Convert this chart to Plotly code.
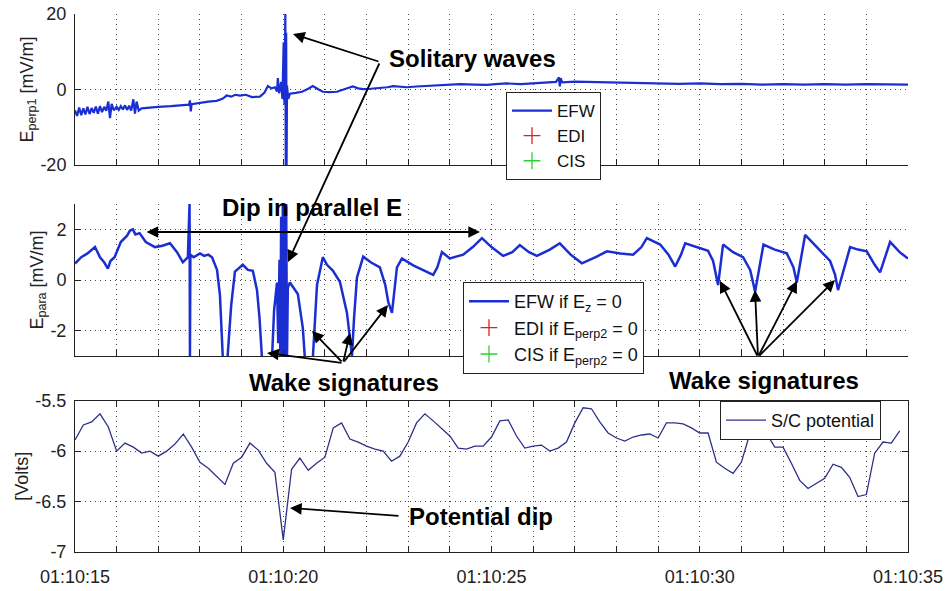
import plotly.graph_objects as go

# ---------------- data ----------------
# Panel 1: E_perp1 [mV/m]  (seconds after 01:10:00)
t_perp1 = [15.00, 15.05, 15.10, 15.15, 15.20, 15.25, 15.30, 15.35, 15.40, 15.45,
           15.50, 15.55, 15.60, 15.65, 15.70, 15.75, 15.80, 15.84, 15.88, 15.93,
           16.00, 16.05, 16.10, 16.15, 16.20, 16.25, 16.30, 16.35, 16.40, 16.44,
           16.48, 16.53, 16.60, 16.80, 17.00, 17.30, 17.60, 17.74, 17.76, 17.78,
           17.80, 18.00, 18.20, 18.40, 18.55, 18.64, 18.75, 18.85, 18.96, 19.10,
           19.25, 19.44, 19.55, 19.63, 19.72, 19.80, 19.85, 19.87, 19.90, 19.95,
           19.98, 20.01, 20.03, 20.05, 20.06, 20.07, 20.08, 20.09, 20.12, 20.16,
           20.30, 20.45, 20.60, 20.71, 20.85, 20.95, 21.10, 21.29, 21.50, 21.67,
           21.80, 21.91, 22.10, 22.32, 22.50, 22.64, 22.80, 22.97, 23.20, 23.45,
           23.80, 24.24, 24.60, 24.89, 25.10, 25.37, 25.70, 26.00, 26.30, 26.55,
           26.62, 26.64, 26.66, 26.70, 27.00, 27.50, 28.00, 28.57, 29.00, 29.50,
           30.00, 30.50, 31.00, 31.50, 32.00, 32.50, 33.00, 33.50, 34.00, 34.50,
           35.00]
e_perp1 = [-5.5, -7.0, -4.8, -6.8, -5.0, -6.6, -4.6, -6.5, -4.9, -6.2,
           -4.5, -6.4, -4.4, -6.0, -4.6, -5.6, -3.2, -7.6, -3.8, -5.5,
           -4.6, -5.4, -4.4, -5.3, -4.2, -5.4, -4.3, -5.6, -2.6, -6.4,
           -3.2, -5.6, -5.0, -4.7, -4.6, -4.4, -4.1, -4.0, -2.9, -5.8,
           -3.9, -3.5, -3.2, -3.0, -2.4, -1.6, -1.9, -1.4, -1.6, -1.4,
           -2.0, -1.9, -0.8, 0.9, 0.3, 0.6, -0.5, 3.0, -1.0, 2.0,
           -2.5, 12.5, -4.0, 20.0, -20.0, 15.0, -20.0, 1.0, -2.5, -1.1,
           -0.9, -0.6, 0.2, 0.9, 0.0, -0.6, -0.7, -0.6, 0.2, 0.8,
           0.3, 0.1, 0.2, 0.4, 0.6, 0.9, 0.7, 0.6, 0.8, 0.9,
           1.1, 1.4, 1.3, 1.2, 1.4, 1.6, 1.4, 1.6, 1.8, 2.0,
           3.2, 0.8, 3.0, 1.9, 2.1, 2.0, 1.9, 1.6, 1.7, 1.5,
           1.6, 1.4, 1.5, 1.3, 1.4, 1.3, 1.4, 1.3, 1.4, 1.3,
           1.3]

# Panel 2: E_para [mV/m]
t_para = [15.00, 15.15, 15.30, 15.48, 15.60, 15.70, 15.79, 15.85, 15.95, 16.10,
          16.25, 16.32, 16.39, 16.45, 16.55, 16.70, 16.92, 17.10, 17.28, 17.45,
          17.59, 17.71, 17.75, 17.76, 17.77, 17.85, 18.00, 18.10, 18.20, 18.29,
          18.41, 18.48, 18.55, 18.66, 18.75, 18.84, 19.03, 19.15, 19.27, 19.37,
          19.43, 19.49, 19.73, 19.78, 19.85, 19.88, 19.91, 19.93, 19.95, 19.97,
          19.99, 20.01, 20.03, 20.05, 20.07, 20.09, 20.11, 20.16, 20.25, 20.35,
          20.47, 20.52, 20.71, 20.76, 20.81, 20.95, 21.05, 21.19, 21.36, 21.53,
          21.65, 21.70, 21.77, 21.92, 22.10, 22.32, 22.45, 22.52, 22.61, 22.73,
          22.85, 23.12, 23.35, 23.60, 23.70, 23.81, 24.00, 24.32, 24.55, 24.77,
          25.00, 25.28, 25.50, 25.68, 25.90, 26.09, 26.40, 26.64, 26.90, 27.17,
          27.50, 27.77, 28.10, 28.40, 28.60, 28.73, 29.05, 29.25, 29.41, 29.55,
          29.65, 29.90, 30.20, 30.32, 30.40, 30.44, 30.56, 30.80, 31.04, 31.21,
          31.33, 31.53, 31.80, 32.09, 32.25, 32.33, 32.53, 32.80, 33.13, 33.25,
          33.32, 33.61, 33.80, 34.01, 34.20, 34.33, 34.57, 34.80, 35.00]
e_para = [0.65, 0.9, 1.05, 1.3, 0.9, 0.7, 0.45, 0.75, 0.9, 1.5,
          1.75, 1.95, 2.0, 1.8, 1.85, 1.5, 1.3, 1.35, 1.45, 1.1,
          0.7, 0.9, 3.0, -3.0, 1.0, 0.9, 1.05, 0.95, 1.0, 0.9,
          0.4, -0.6, -3.1, -3.1, -1.0, 0.33, 0.6, 0.4, 0.36, -0.4,
          -1.5, -3.1, -3.1, -1.2, -0.1, -2.5, 0.8, -3.0, 2.5, -3.0,
          3.0, -3.0, 3.0, -3.0, 3.0, -3.0, -0.3, -0.1, -0.3, -0.55,
          -1.9, -3.1, -3.1, -1.5, -0.2, 0.9, 0.6, 0.37, -0.07, -1.3,
          -3.0, -1.5, 0.1, 0.92, 0.7, 0.5, -0.2, -0.86, -1.3, 0.5,
          0.85, 0.58, 0.4, 0.2, 0.5, 1.1, 0.85, 1.0, 1.3, 1.65,
          1.3, 0.95, 1.1, 1.38, 1.1, 0.95, 1.2, 1.45, 1.0, 0.66,
          0.9, 1.13, 1.05, 1.0, 1.3, 1.65, 1.4, 1.0, 0.53, 1.0,
          1.45, 1.3, 1.15, 0.75, 0.2, -0.2, 1.4, 1.1, 0.9, 0.4,
          -0.46, 1.4, 1.2, 1.05, 0.5, -0.1, 1.78, 1.3, 0.75, 0.2,
          -0.4, 1.3, 1.2, 1.13, 0.6, 0.3, 1.5, 1.1, 0.85]

# Panel 3: spacecraft potential [Volts], sampled every 0.2 s from 15.0 s
t_pot_start = 15.0
t_pot_step = 0.2
sc_pot = [-5.89, -5.74, -5.71, -5.63, -5.76, -6.00, -5.92, -5.96, -6.02, -6.00,
          -6.05, -6.00, -5.93, -5.83, -5.96, -6.11, -6.17, -6.25, -6.33, -6.12,
          -6.06, -5.92, -5.99, -6.12, -6.21, -6.88, -6.18, -6.07, -6.19, -6.12,
          -6.06, -5.77, -5.72, -5.88, -5.91, -5.95, -5.98, -6.00, -6.10, -6.05,
          -5.91, -5.72, -5.63, -5.70, -5.78, -5.85, -5.97, -5.98, -5.95, -5.95,
          -5.86, -5.70, -5.69, -5.85, -5.97, -5.95, -5.94, -6.00, -5.97, -5.91,
          -5.72, -5.57, -5.58, -5.71, -5.82, -5.87, -5.90, -5.86, -5.84, -5.83,
          -5.87, -5.72, -5.72, -5.73, -5.77, -5.82, -5.82, -6.11, -6.17, -6.22,
          -6.11, -5.83, -5.81, -5.82, -5.96, -5.96, -6.12, -6.29, -6.37, -6.32,
          -6.27, -6.13, -6.16, -6.26, -6.45, -6.43, -6.02, -5.91, -5.92, -5.80]
t_pot = [t_pot_start + t_pot_step * i for i in range(len(sc_pot))]

# EDI / CIS have no samples in this interval (legend entries only)
edi_t, edi_v = [None], [None]
cis_t, cis_v = [None], [None]

x_tick_vals = list(range(15, 36))
x_label_vals = [15, 20, 25, 30, 35]
x_label_text = ["01:10:15", "01:10:20", "01:10:25", "01:10:30", "01:10:35"]

y1_vals = [-20, 0, 20]
y1_text = ["-20", "0", "20"]
y2_vals = [-2, 0, 2, 3]
y2_text = ["-2", "0", "2", ""]
y3_vals = [-7, -6.5, -6, -5.5]
y3_text = ["-7", "-6.5", "-6", "-5.5"]

# ---------------- figure ----------------
FONT = "Liberation Sans, Arial, Helvetica, sans-serif"
EFW_COLOR = "#1b2ed2"
POT_COLOR = "#2e3088"
EDI_COLOR = "#e02020"
CIS_COLOR = "#30d030"

fig = go.Figure()

fig.add_trace(go.Scatter(x=t_perp1, y=e_perp1, mode="lines", name="EFW",
                         line=dict(color=EFW_COLOR, width=2.2),
                         xaxis="x", yaxis="y", legend="legend"))
fig.add_trace(go.Scatter(x=edi_t, y=edi_v, mode="markers", name="EDI",
                         marker=dict(symbol="cross-thin", size=12, line=dict(color=EDI_COLOR, width=1.3)),
                         xaxis="x", yaxis="y", legend="legend"))
fig.add_trace(go.Scatter(x=cis_t, y=cis_v, mode="markers", name="CIS",
                         marker=dict(symbol="cross-thin", size=12, line=dict(color=CIS_COLOR, width=1.3)),
                         xaxis="x", yaxis="y", legend="legend"))

fig.add_trace(go.Scatter(x=t_para, y=e_para, mode="lines", name="EFW if E<sub>z</sub> = 0",
                         line=dict(color=EFW_COLOR, width=2.5),
                         xaxis="x2", yaxis="y2", legend="legend2"))
fig.add_trace(go.Scatter(x=edi_t, y=edi_v, mode="markers", name="EDI if E<sub>perp2</sub> = 0",
                         marker=dict(symbol="cross-thin", size=12, line=dict(color=EDI_COLOR, width=1.3)),
                         xaxis="x2", yaxis="y2", legend="legend2"))
fig.add_trace(go.Scatter(x=cis_t, y=cis_v, mode="markers", name="CIS if E<sub>perp2</sub> = 0",
                         marker=dict(symbol="cross-thin", size=12, line=dict(color=CIS_COLOR, width=1.3)),
                         xaxis="x2", yaxis="y2", legend="legend2"))

fig.add_trace(go.Scatter(x=t_pot, y=sc_pot, mode="lines", name="S/C potential",
                         line=dict(color=POT_COLOR, width=1.3),
                         xaxis="x3", yaxis="y3", legend="legend3"))

L, R, T, B = 75, 908, 14, 552
W, H = 947, 591


def px(X):
    return (X - L) / (R - L)


def py(Y):
    return (B - Y) / (B - T)


GRID = dict(showgrid=True, gridcolor="#444", griddash="1px,4px", gridwidth=1)


def xaxis_common(show_labels, anchor, mirror):
    d = dict(range=[15, 35], domain=[0, 1], anchor=anchor, automargin=False,
             tickmode="array", tickvals=x_tick_vals,
             ticktext=[(x_label_text[x_label_vals.index(v)] if (show_labels and v in x_label_vals) else "")
                       for v in x_tick_vals],
             showticklabels=show_labels,
             ticks="inside", ticklen=6, tickcolor="#222", tickwidth=1,
             showline=True, linecolor="#222", linewidth=1, mirror=mirror,
             zeroline=False,
             tickfont=dict(family=FONT, size=18, color="#222"), **GRID)
    return d


def yaxis_common(rng, dom, vals, text, title, mirror, anchor):
    return dict(range=rng, domain=dom, anchor=anchor, automargin=False,
                tickmode="array", tickvals=vals, ticktext=text,
                ticks="inside", ticklen=6, tickcolor="#222",
                showline=True, linecolor="#222", linewidth=1, mirror=mirror,
                zeroline=False, ticklabelstandoff=4,
                tickfont=dict(family=FONT, size=18, color="#222"),
                title=dict(text=title, font=dict(family=FONT, size=18, color="#222"), standoff=2),
                **GRID)


xa1 = xaxis_common(False, "y", False)
xa2 = xaxis_common(False, "y2", False)
xa3 = xaxis_common(True, "y3", "ticks")
xa3["ticklabelstandoff"] = 8

ya1 = yaxis_common([-20, 20], [py(165), py(14)], y1_vals, y1_text, "E<sub>perp1</sub> [mV/m]", False, "x")
ya2 = yaxis_common([-3, 3], [py(356), py(204)], y2_vals, y2_text, "E<sub>para</sub> [mV/m]", False, "x2")
ya3 = yaxis_common([-7, -5.5], [0, py(400.7)], y3_vals, y3_text, "[Volts]", "ticks", "x3")

LEG = dict(xanchor="left", yanchor="top", bgcolor="white", bordercolor="#222", borderwidth=1,
           itemwidth=40, tracegroupgap=0)

fig.update_layout(
    width=W, height=H,
    margin=dict(l=L, r=W - R, t=T, b=H - B, pad=0, autoexpand=False),
    paper_bgcolor="white", plot_bgcolor="white",
    xaxis=xa1, xaxis2=xa2, xaxis3=xa3,
    yaxis=ya1, yaxis2=ya2, yaxis3=ya3,
    showlegend=True,
    legend=dict(x=px(506), y=py(92), font=dict(family=FONT, size=17, color="#111"), **LEG),
    legend2=dict(x=px(463), y=py(282), font=dict(family=FONT, size=18, color="#111"), **LEG),
    legend3=dict(x=px(720), y=py(401), font=dict(family=FONT, size=18, color="#111"), **LEG),
)

ann = []


def label(text, cx, cy):
    ann.append(dict(text="<b>%s</b>" % text, x=px(cx), y=py(cy), xref="paper", yref="paper",
                    xanchor="center", yanchor="middle", showarrow=False,
                    font=dict(family=FONT, size=24, color="black")))


def arrow(tail, head, both=False):
    a = dict(text="", x=px(head[0]), y=py(head[1]), xref="paper", yref="paper",
             ax=tail[0] - head[0], ay=tail[1] - head[1], axref="pixel", ayref="pixel",
             showarrow=True, arrowhead=2, arrowsize=1.3, arrowwidth=1.8, arrowcolor="black",
             standoff=0, startstandoff=0)
    if both:
        a["arrowside"] = "end+start"
        a["startarrowhead"] = 2
        a["startarrowsize"] = 1.3
    ann.append(a)


label("Solitary waves", 472, 59)
arrow((380, 62), (293, 34))
arrow((380, 62), (288, 262))

label("Dip in parallel E", 312, 207)
arrow((145, 232), (480, 232), both=True)

label("Wake signatures", 344, 383)
for h in [(267, 353), (312, 331), (350, 333), (388, 305)]:
    arrow((343, 363), h)

label("Wake signatures", 764, 380)
for h in [(720, 281), (755, 290), (797, 281), (835, 280)]:
    arrow((758, 357), h)

label("Potential dip", 481, 516)
arrow((400, 516), (290, 508))

fig.update_layout(annotations=ann)

fig.write_html("out.html")
